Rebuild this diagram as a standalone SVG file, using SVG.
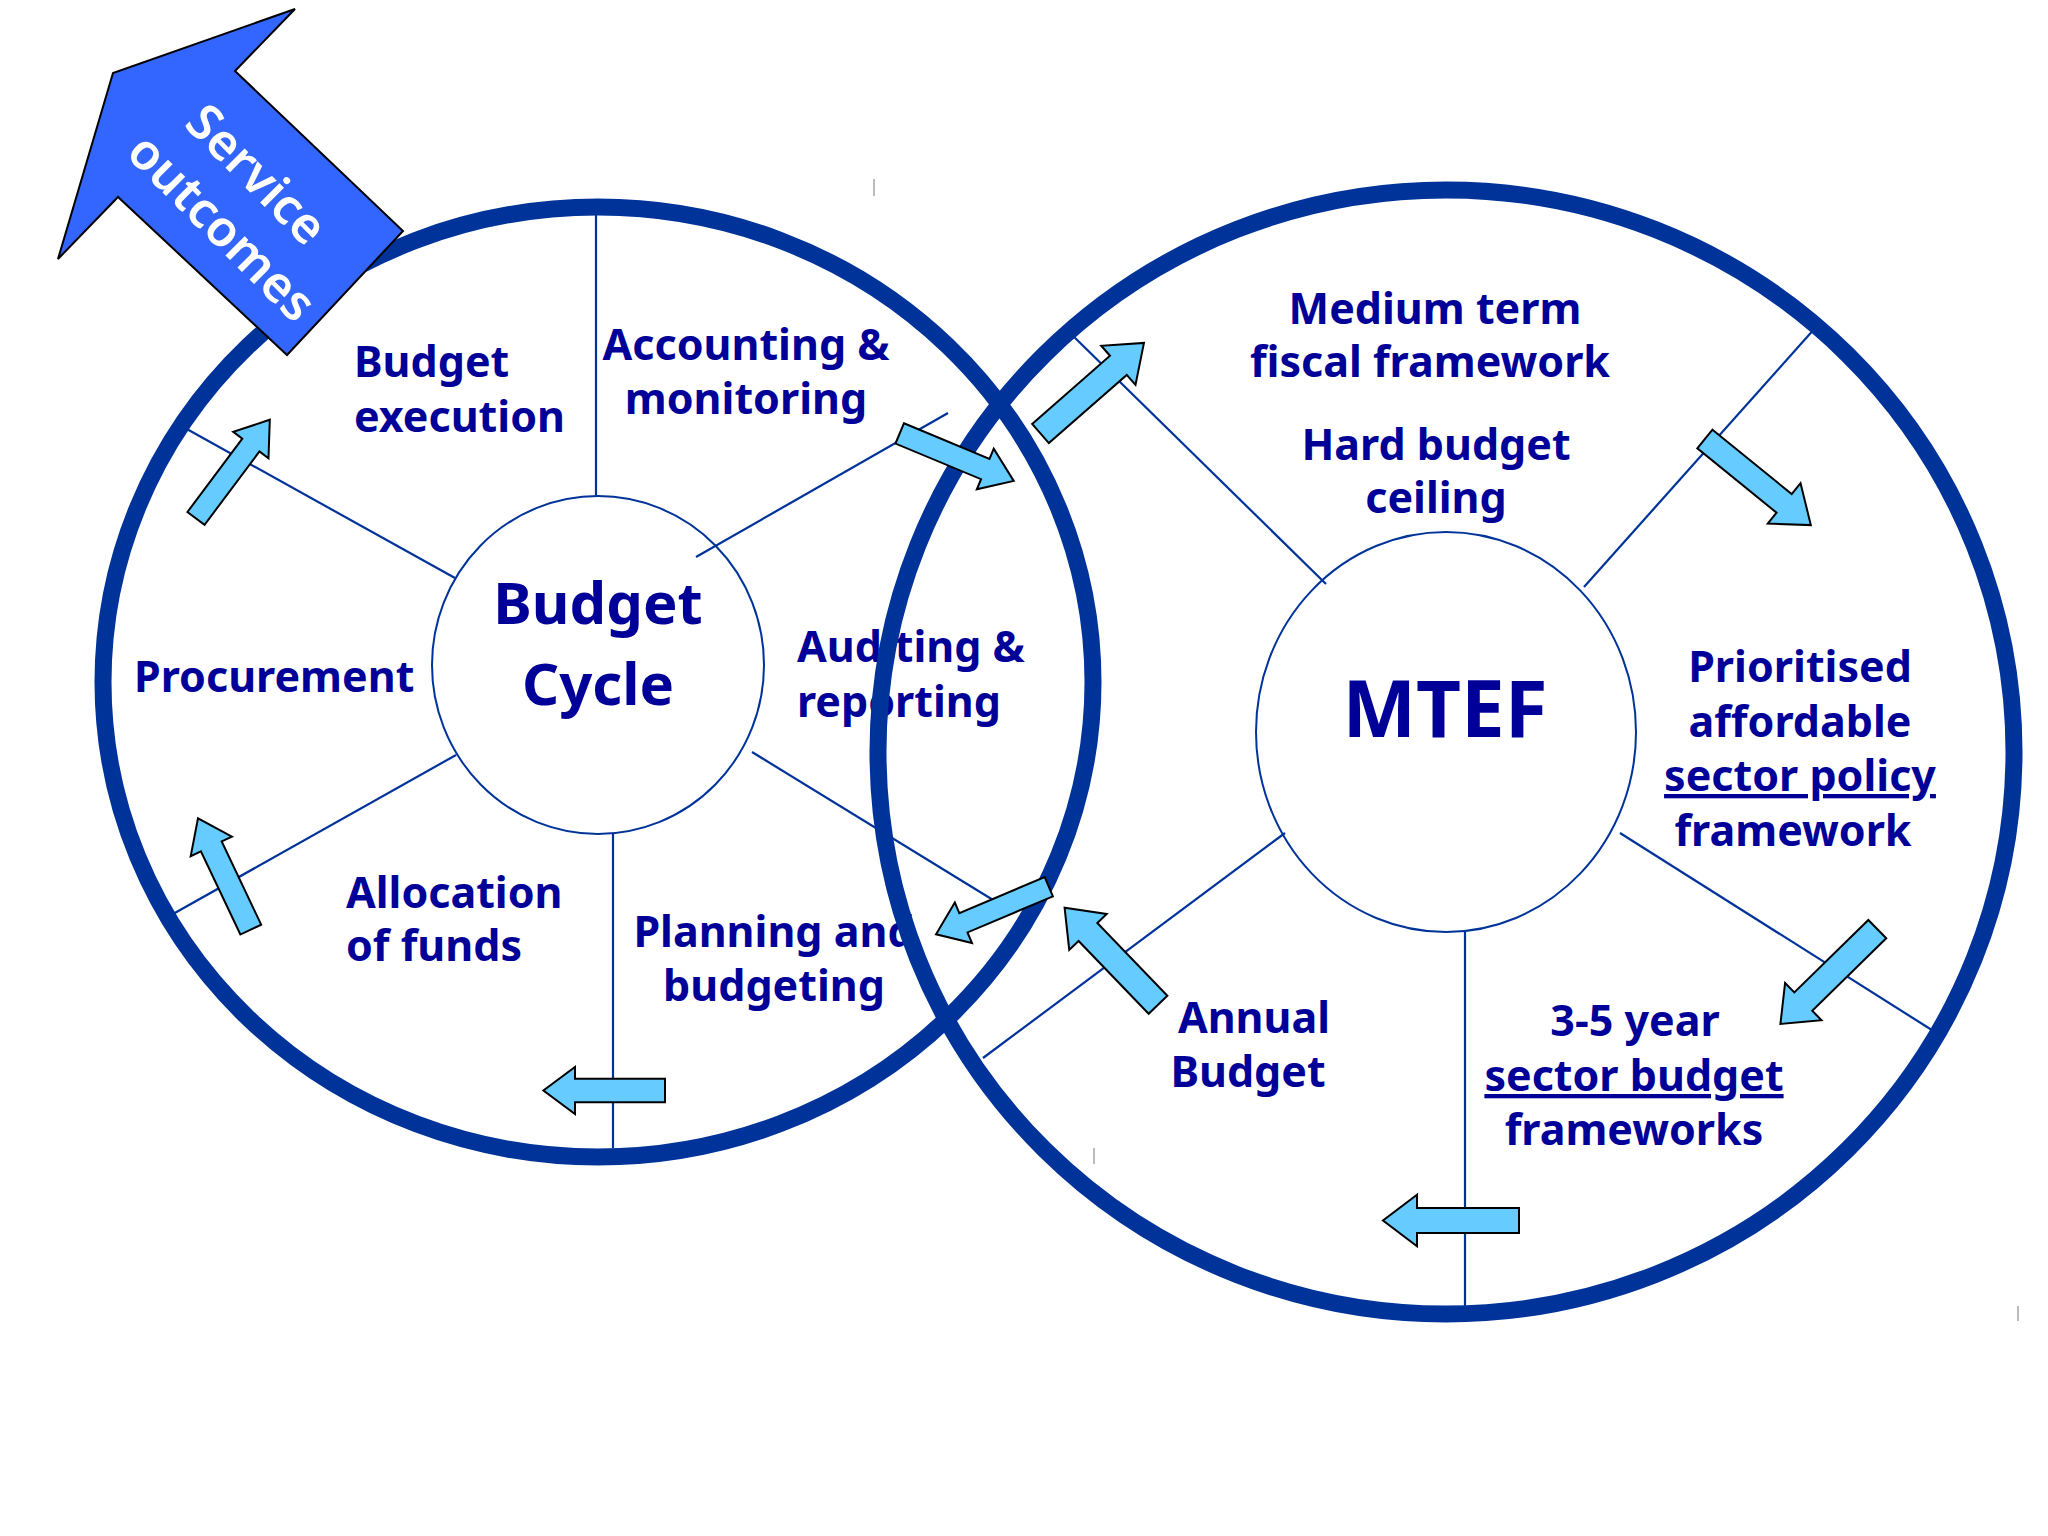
<svg xmlns="http://www.w3.org/2000/svg" width="2048" height="1536" viewBox="0 0 2048 1536">
<style>
.lbl{font-family:"Noto Sans","Open Sans",sans-serif;font-weight:bold;font-size:43px;fill:#000099}
.mid{text-anchor:middle}
.big{font-size:58px}
.huge{font-size:78px}
.ring{fill:none;stroke:#003399;stroke-width:17}
.inner{fill:none;stroke:#003399;stroke-width:2}
.spoke{stroke:#003399;stroke-width:2.2;fill:none}
.arr{fill:#66ccff;stroke:#000;stroke-width:2;stroke-linejoin:miter}
.tick{stroke:#bbbbbb;stroke-width:2}
.svc{font-family:"Noto Sans","Open Sans",sans-serif;font-size:50px;font-weight:600;fill:#ffffff;text-anchor:middle}
</style>
<rect width="2048" height="1536" fill="#ffffff"/>

<g id="labels-budget-cycle">
  <g id="budget-execution"><text class="lbl" x="354" y="377">Budget</text><text class="lbl" x="354" y="432">execution</text></g>
  <g id="accounting-monitoring"><text class="lbl mid" x="746" y="360">Accounting &amp;</text><text class="lbl mid" x="746" y="414">monitoring</text></g>
  <g id="procurement"><text class="lbl" x="134" y="692">Procurement</text></g>
  <g id="auditing-reporting"><text class="lbl" x="797" y="662">Auditing &amp;</text><text class="lbl" x="797" y="717">reporting</text></g>
  <g id="allocation-of-funds"><text class="lbl" x="346" y="908">Allocation</text><text class="lbl" x="346" y="961">of funds</text></g>
  <g id="planning-budgeting"><text class="lbl mid" x="774" y="947">Planning and</text><text class="lbl mid" x="774" y="1001">budgeting</text></g>
</g>

<g id="budget-cycle">
  <ellipse class="ring" cx="598" cy="682" rx="495" ry="475"/>
  <ellipse class="inner" cx="598" cy="665" rx="166" ry="169"/>
  <text class="lbl mid big" x="598" y="624">Budget</text>
  <text class="lbl mid big" x="598" y="705">Cycle</text>
</g>

<g id="mtef">
  <ellipse class="ring" cx="1446" cy="752" rx="568" ry="562"/>
  <ellipse class="inner" cx="1446" cy="732" rx="190" ry="200"/>
  <text class="lbl mid huge" x="1445" y="737">MTEF</text>
</g>

<g id="labels-mtef">
  <g id="medium-term"><text class="lbl mid" x="1435" y="324">Medium term</text><text class="lbl mid" x="1430" y="377">fiscal framework</text></g>
  <g id="hard-budget-ceiling"><text class="lbl mid" x="1436" y="460">Hard budget</text><text class="lbl mid" x="1436" y="513">ceiling</text></g>
  <g id="prioritised"><text class="lbl mid" x="1800" y="682">Prioritised</text><text class="lbl mid" x="1800" y="737">affordable</text><text class="lbl mid" x="1800" y="791" text-decoration="underline">sector policy</text><text class="lbl mid" x="1793" y="846">framework</text></g>
  <g id="annual-budget"><text class="lbl mid" x="1254" y="1033">Annual</text><text class="lbl mid" x="1248" y="1087">Budget</text></g>
  <g id="sector-budget"><text class="lbl mid" x="1635" y="1036">3-5 year</text><text class="lbl mid" x="1634" y="1091" text-decoration="underline">sector budget</text><text class="lbl mid" x="1634" y="1145">frameworks</text></g>
</g>

<g id="connectors">
  <g id="spokes">
    <line class="spoke" x1="596" y1="214" x2="596" y2="496"/>
    <line class="spoke" x1="185" y1="428" x2="455" y2="578"/>
    <line class="spoke" x1="696" y1="557" x2="948" y2="413"/>
    <line class="spoke" x1="456" y1="755" x2="173" y2="914"/>
    <line class="spoke" x1="613" y1="834" x2="613" y2="1148"/>
    <line class="spoke" x1="752" y1="752" x2="998" y2="903"/>
    <line class="spoke" x1="1069" y1="332" x2="1326" y2="584"/>
    <line class="spoke" x1="1816" y1="327" x2="1584" y2="587"/>
    <line class="spoke" x1="1285" y1="833" x2="983" y2="1058"/>
    <line class="spoke" x1="1620" y1="833" x2="1935" y2="1032"/>
    <line class="spoke" x1="1465" y1="932" x2="1465" y2="1306"/>
  </g>
  <g id="flow-arrows">
    <polygon class="arr" transform="translate(196,518.4) rotate(-53.2)" points="0,-10.7 91.6,-10.7 91.6,-22 123.2,0 91.6,22 91.6,10.7 0,10.7"/>
    <polygon class="arr" transform="translate(250.8,929.6) rotate(-115.4)" points="0,-11.5 92.1,-11.5 92.1,-22.8 123.1,0 92.1,22.8 92.1,11.5 0,11.5"/>
    <polygon class="arr" transform="translate(665,1090.5) rotate(180)" points="0,-11.8 90,-11.8 90,-23.5 121.6,0 90,23.5 90,11.8 0,11.8"/>
    <polygon class="arr" transform="translate(899.7,433.4) rotate(22.6)" points="0,-11 92.7,-11 92.7,-22 123.5,0 92.7,22 92.7,11 0,11"/>
    <polygon class="arr" transform="translate(1048.8,886.7) rotate(157.1)" points="0,-10.5 92.7,-10.5 92.7,-22 122.4,0 92.7,22 92.7,10.5 0,10.5"/>
    <polygon class="arr" transform="translate(1040.5,433.5) rotate(-41.2)" points="0,-12.7 103.5,-12.7 103.5,-26 137.5,0 103.5,26 103.5,12.7 0,12.7"/>
    <polygon class="arr" transform="translate(1704.9,439) rotate(39.1)" points="0,-12 102.1,-12 102.1,-26 136.5,0 102.1,26 102.1,12 0,12"/>
    <polygon class="arr" transform="translate(1877.3,929.1) rotate(135.6)" points="0,-12.8 103.6,-12.8 103.6,-26 135.6,0 103.6,26 103.6,12.8 0,12.8"/>
    <polygon class="arr" transform="translate(1519,1220.5) rotate(180)" points="0,-12.5 102,-12.5 102,-25.7 136,0 102,25.7 102,12.5 0,12.5"/>
    <polygon class="arr" transform="translate(1158,1004.7) rotate(-133.9)" points="0,-13 101,-13 101,-26 134.7,0 101,26 101,13 0,13"/>
  </g>
</g>

<g id="service-outcomes">
  <polygon points="295,9 113,73 58,259 118,197 287,355 403,231 235,71" fill="#3366ff" stroke="#000000" stroke-width="2"/>
  <g transform="translate(238,200) rotate(45)">
    <text class="svc" x="-5" y="-14">Service</text>
    <text class="svc" x="8" y="48">outcomes</text>
  </g>
</g>

<g id="marks">
  <line class="tick" x1="874" y1="179" x2="874" y2="196"/>
  <line class="tick" x1="1094" y1="1148" x2="1094" y2="1164"/>
  <line class="tick" x1="2018" y1="1306" x2="2018" y2="1321"/>
</g>
</svg>
